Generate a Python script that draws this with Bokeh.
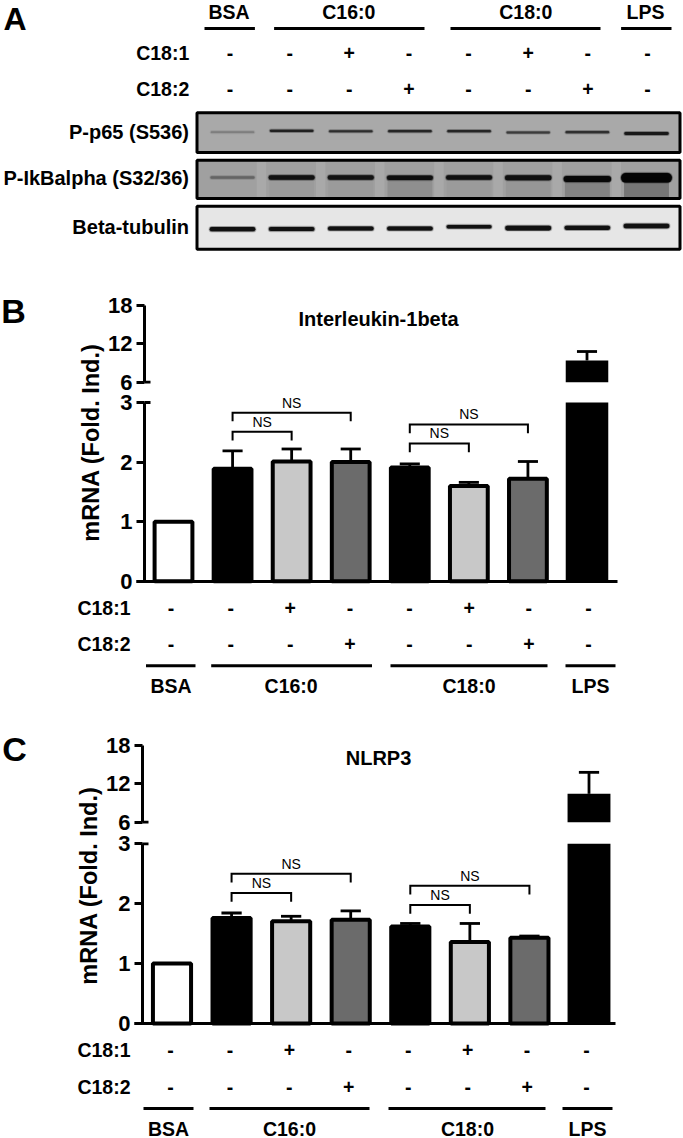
import math
from bokeh.plotting import figure
from bokeh.models import Range1d, LinearAxis, FixedTicker
from bokeh.core.properties import value
from bokeh.embed import file_html
from bokeh.resources import INLINE

# ---------- data ----------
lanes = list(range(8))
c18_1 = ["-", "-", "+", "-", "-", "+", "-", "-"]
c18_2 = ["-", "-", "-", "+", "-", "-", "+", "-"]
groups = ["BSA", "C16:0", "C18:0", "LPS"]
blot_names = ["P-p65 (S536)", "P-IkBalpha (S32/36)", "Beta-tubulin"]
bar_colors = ["#ffffff", "#000000", "#c8c8c8", "#6b6b6b", "#000000", "#c8c8c8", "#6b6b6b", "#000000"]

il1b_mean = [1.0, 1.89, 2.01, 2.0, 1.91, 1.6, 1.72, 9.4]
il1b_top = [1.0, 2.19, 2.22, 2.22, 1.97, 1.66, 2.01, 10.8]
nlrp3_mean = [1.0, 1.76, 1.705, 1.73, 1.62, 1.36, 1.43, 10.44]
nlrp3_top = [1.0, 1.845, 1.79, 1.88, 1.67, 1.67, 1.46, 13.8]

il1b_ns_from = [1, 1, 4, 4]
il1b_ns_to = [3, 2, 6, 5]
il1b_ns_level = [2.83, 2.51, 2.63, 2.31]
nlrp3_ns_level = [2.50, 2.18, 2.30, 1.98]

low_ticks = [0, 1, 2, 3]
high_ticks = [6, 12, 18]

p65_gray = ["#7d7d7d", "#1c1c1c", "#2a2a2a", "#222222", "#222222", "#383838", "#2c2c2c", "#141414"]
ikb_gray = ["#626262", "#0e0e0e", "#101010", "#0c0c0c", "#0c0c0c", "#0c0c0c", "#040404", "#000000"]
tub_gray = ["#0c0c0c"] * 8
ikb_smear = [0.0, 0.03, 0.03, 0.10, 0.03, 0.06, 0.18, 0.26]

# ---------- layout ----------
W, H = 683, 1138
FONT = value("Liberation Sans")
p = figure(width=W, height=H, output_backend="svg", toolbar_location=None,
           x_range=Range1d(0, W), y_range=Range1d(H, 0), min_border=0,
           x_axis_type=None, y_axis_type=None, outline_line_color=None,
           background_fill_color="#ffffff", border_fill_color="#ffffff")
p.grid.visible = False


def xrange_(v0, px0, v1, px1):
    s = (v1 - v0) / (px1 - px0)
    return Range1d(v0 + (0 - px0) * s, v0 + (W - px0) * s)


def yrange(v0, px0, v1, px1):
    s = (v1 - v0) / (px1 - px0)
    return Range1d(v0 + (H - px0) * s, v0 + (0 - px0) * s)


p.extra_x_ranges = {
    "Alane": xrange_(0, 229.5, 7, 647),
    "Aband": xrange_(0, 232, 7, 646),
    "Bbar": xrange_(0, 173, 7, 586.5),
    "Bsym": xrange_(0, 170.5, 7, 588),
    "Cbar": xrange_(0, 171.5, 7, 588.5),
    "Csym": xrange_(0, 170, 7, 586),
}
p.extra_y_ranges = {
    "Blow": yrange(0, 580.8, 3, 402),
    "Bhigh": yrange(6, 381.7, 18, 305),
    "Clow": yrange(0, 1023, 3, 843.3),
    "Chigh": yrange(6, 821.7, 18, 745),
}


def txt(x, y, s, size=19.5, bold=True, align="center", angle=0.0, xr="default"):
    p.text(x=[x], y=[y], text=[s], text_font=FONT, text_font_size=f"{size}px",
           text_font_style="bold" if bold else "normal", text_align=align,
           text_baseline="middle", text_color="#000000", angle=angle, x_range_name=xr)


def hline(x0, x1, y, lw=2.9):
    p.segment(x0=[x0], y0=[y], x1=[x1], y1=[y], line_color="#000000", line_width=lw)


def symbols(py1, py2, xr, lab_right):
    txt(lab_right, py1, "C18:1", align="right")
    txt(lab_right, py2, "C18:2", align="right")
    for i in lanes:
        txt(i, py1, c18_1[i], xr=xr)
        txt(i, py2, c18_2[i], xr=xr)


def group_row(line_y, lab_y, spans, centers):
    for (a, b) in spans:
        hline(a, b, line_y)
    for g, c in zip(groups, centers):
        txt(c, lab_y, g)


# ---------- panel A ----------
txt(14.5, 18, "A", size=32)
group_row(28, 11, [(204, 254.4), (273.6, 424), (450, 600), (620.6, 671)], [228.6, 348.3, 525.3, 645])
symbols(52.3, 88, "Alane", 188.8)

BL, BR = 196.5, 679.5
blot_boxes = [(112.3, 152, "#a9a9a9"), (159.7, 198, "#a0a0a0"), (205.7, 248.7, "#e6e6e6")]
blot_y = [[131.7, 130.3, 130.7, 130.7, 130.7, 132, 131.7, 133],
          [177, 177, 177, 177.3, 177, 177.3, 178.5, 177.3],
          [228.7, 228.5, 228, 228, 226.3, 227.6, 227.3, 225.5]]
blot_th = [[1.8, 2.2, 2.0, 2.2, 2.2, 1.9, 2.2, 2.8],
           [2.6, 4.6, 4.6, 4.6, 4.6, 5, 6, 9.5],
           [4.2, 4.2, 4.2, 4.2, 3.6, 4.6, 4.2, 4.4]]
blot_gray = [p65_gray, ikb_gray, tub_gray]
for k, ((y0, y1, c), name, ys, ths, grays) in enumerate(zip(blot_boxes, blot_names, blot_y, blot_th, blot_gray)):
    p.quad(left=[BL], right=[BR], top=[y0], bottom=[y1], fill_color=c, line_color=None)
    if k == 1:
        for i in lanes:
            p.quad(left=[i - 0.38], right=[i + 0.38], top=[ys[i]], bottom=[y1 - 1], x_range_name="Aband",
                   fill_color="#000000", fill_alpha=ikb_smear[i], line_color=None)
        for i in lanes[:-1]:
            p.quad(left=[i + 0.41], right=[i + 0.57], top=[y0 + 1], bottom=[y1 - 1], x_range_name="Aband",
                   fill_color="#ffffff", fill_alpha=0.1, line_color=None)
    for i in lanes:
        for extra, al in ((2.4, 0.18), (1.0, 0.4), (0, 0.95)):
            p.segment(x0=[i - 0.35], x1=[i + 0.35], y0=[ys[i]], y1=[ys[i]], x_range_name="Aband",
                      line_color=grays[i], line_alpha=al, line_width=ths[i] + extra, line_cap="round")
    p.quad(left=[BL], right=[BR], top=[y0], bottom=[y1], fill_color=None, line_color="#000000", line_width=3)
    txt(188.5, (y0 + y1) / 2 - 1, name, size=20, align="right")


# ---------- bar panels ----------
def bar_panel(tag, means, tops, levels, axis_x, title, title_x, title_y, letter_x, letter_y, ylab_y, base_right):
    low, high, cat = tag + "low", tag + "high", tag + "bar"
    kw_low = dict(x_range_name=cat, y_range_name=low)
    kw_high = dict(x_range_name=cat, y_range_name=high)

    txt(letter_x, letter_y, tag, size=34)
    txt(title_x, title_y, title, size=20)
    txt(axis_x - 54, ylab_y, "mRNA (Fold. Ind.)", size=23.5, angle=math.pi / 2)

    # error bars
    for i in lanes[:-1]:
        p.segment(x0=[i], x1=[i], y0=[means[i]], y1=[tops[i]], line_color="#000000", line_width=2.8, **kw_low)
        if tops[i] > means[i]:
            p.segment(x0=[i - 0.17], x1=[i + 0.17], y0=[tops[i]], y1=[tops[i]], line_color="#000000", line_width=2.8, **kw_low)
    p.segment(x0=[7], x1=[7], y0=[means[7]], y1=[tops[7]], line_color="#000000", line_width=2.8, **kw_high)
    p.segment(x0=[6.83], x1=[7.17], y0=[tops[7]], y1=[tops[7]], line_color="#000000", line_width=2.8, **kw_high)

    # bars
    p.vbar(x=lanes[:-1], width=0.64, bottom=0, top=means[:-1], fill_color=bar_colors[:-1],
           line_color="#000000", line_width=4, **kw_low)
    p.vbar(x=[7], width=0.72, bottom=0, top=[3], fill_color="#000000", line_color=None, **kw_low)
    p.vbar(x=[7], width=0.72, bottom=6, top=[means[7]], fill_color="#000000", line_color=None, **kw_high)

    # NS brackets
    drop = 0.146
    for a, b, lev in zip(il1b_ns_from, il1b_ns_to, levels):
        p.multi_line(xs=[[a, a, b, b]], ys=[[lev - drop, lev, lev, lev - drop]], line_color="#000000",
                     line_width=2.0, line_join="miter", **kw_low)
        p.text(x=[(a + b) / 2], y=[lev + 0.17], text=["NS"], text_font=FONT, text_font_size="14px",
               text_align="center", text_baseline="middle", text_color="#000000", **kw_low)

    # axes
    for rng, ticks, bounds in ((low, low_ticks, (0, 3)), (high, high_ticks, (6, 18))):
        ax = LinearAxis(y_range_name=rng, fixed_location=axis_x, bounds=bounds,
                        ticker=FixedTicker(ticks=ticks), axis_line_width=3, axis_line_color="#000000",
                        major_tick_line_width=2.8, major_tick_line_color="#000000", major_tick_out=8, major_tick_in=0,
                        minor_tick_out=0, minor_tick_in=0, major_label_standoff=4,
                        major_label_text_font="Liberation Sans", major_label_text_font_style="bold",
                        major_label_text_font_size="22px", major_label_text_color="#000000")
        p.add_layout(ax, "left")
    base = LinearAxis(y_range_name=low, fixed_location=0, bounds=(axis_x - 8, base_right),
                      ticker=FixedTicker(ticks=[]), axis_line_width=3, axis_line_color="#000000",
                      major_tick_out=0, minor_tick_out=0, major_label_text_font_size="0px")
    p.add_layout(base, "below")
    # break marks on the inner side of the axis
    p.segment(x0=[axis_x], x1=[axis_x + 6], y0=[3], y1=[3], line_color="#000000", line_width=2.8, y_range_name=low)
    p.segment(x0=[axis_x], x1=[axis_x + 6], y0=[6], y1=[6], line_color="#000000", line_width=2.8, y_range_name=high)


bar_panel("B", il1b_mean, il1b_top, il1b_ns_level, 144, "Interleukin-1beta", 378, 318, 13, 310.5, 442, 617)
symbols(607, 643, "Bsym", 130)
group_row(665.3, 685.7, [(145.5, 195), (210.7, 371.5), (390, 547), (565, 615)], [170.5, 290.6, 468.5, 590])

bar_panel("C", nlrp3_mean, nlrp3_top, nlrp3_ns_level, 142, "NLRP3", 378, 757, 14, 748.5, 885, 615)
symbols(1049, 1086, "Csym", 130)
group_row(1108, 1128, [(143, 193), (209, 369), (388, 545), (562, 612)], [168, 289, 467, 587])

open("out.html", "w").write(file_html(p, INLINE))
